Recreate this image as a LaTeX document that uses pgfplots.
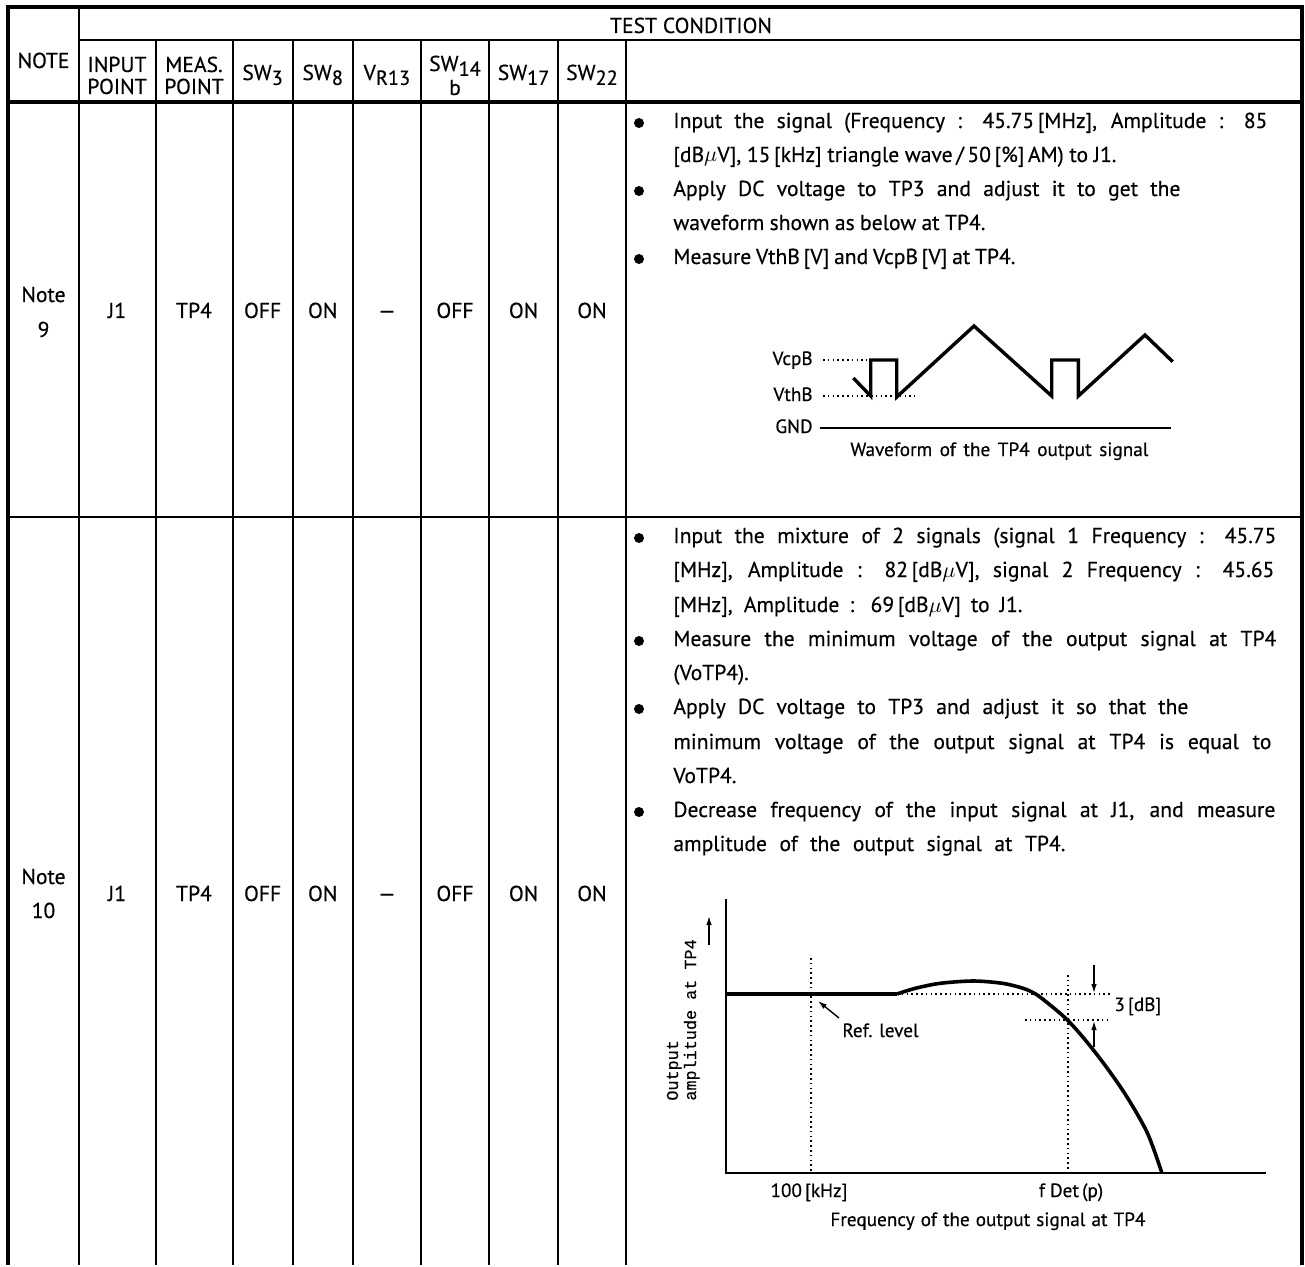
\documentclass[border=0pt]{standalone}
\usepackage{fontspec}
\setmainfont{PT Sans}[FakeBold=0.4]
\setmonofont{Liberation Mono}[FakeBold=0.3]
\usepackage{pgfplots}
\pgfplotsset{compat=1.18}
\usetikzlibrary{arrows.meta}

% subscripts in the header are almost full size, just dropped a little
\newcommand\sub[1]{\raisebox{-0.45ex}{\fontsize{10.2}{11}\selectfont #1}}
\newcommand\muV{dB$\mu$V}
\newcommand\diag{\fontsize{9.6}{11}\selectfont}

\begin{document}
\begin{tikzpicture}[every node/.style={inner sep=0pt, font=\fontsize{10.8}{13}\selectfont},
    dotline/.style={line width=0.8pt, dash pattern=on 0.8pt off 1.6pt},
    arr/.style={line width=0.7pt, -{Latex[length=4.5pt,width=2.8pt]}},
    dot/.style={circle, fill, minimum size=5pt}]
\begin{axis}[
    scale only axis, width=652.5pt, height=632.5pt,
    xmin=0, xmax=1305, ymin=0, ymax=1265, y dir=reverse,
    hide axis, clip=false,
]
\fill[white] (0,0) rectangle (1305,1265);

% ---- table grid
\draw[line width=2pt, line join=miter] (8,1265) -- (8,7) -- (1302,7) -- (1302,1265);
\draw[line width=0.8pt] (79,40) -- (1302,40);
\draw[line width=2pt] (8,102) -- (1302,102);
\draw[line width=1.2pt] (8,517) -- (1302,517);
\draw[line width=1pt] (79,7) -- (79,1265);
\pgfplotsinvokeforeach{155.5,232.5,292.7,352.7,421,489.3,558,626}{
  \draw[line width=1pt] (#1,40) -- (#1,1265);
}

% ---- header
\node[anchor=base] at (691,33) {TEST CONDITION};
\node[anchor=base] at (43.5,68) {NOTE};
\node[anchor=base] at (117,72) {INPUT};
\node[anchor=base] at (117,94) {POINT};
\node[anchor=base] at (194,72) {MEAS.};
\node[anchor=base] at (194,94) {POINT};
\node[anchor=base] at (262.6,80) {SW\sub{3}};
\node[anchor=base] at (322.7,80) {SW\sub{8}};
\node[anchor=base] at (386.9,80) {V\sub{R13}};
\node[anchor=base] at (455,71) {SW\sub{14}};
\node[anchor=base] at (455,95) {b};
\node[anchor=base] at (523.6,80) {SW\sub{17}};
\node[anchor=base] at (592,80) {SW\sub{22}};

% ---- row: note 9
\node[anchor=base] at (43.5,302) {Note};
\node[anchor=base] at (43.5,337) {9};
\node[anchor=base] at (117,318) {J1};
\node[anchor=base] at (194,318) {TP4};
\node[anchor=base] at (262.6,318) {OFF};
\node[anchor=base] at (322.7,318) {ON};
\node[anchor=base] at (386.9,318) {\textemdash};
\node[anchor=base] at (455,318) {OFF};
\node[anchor=base] at (523.6,318) {ON};
\node[anchor=base] at (592,318) {ON};

\node[dot] at (639,123) {};
\node[dot] at (639,191) {};
\node[dot] at (639,259) {};
\node[anchor=base west] at (673,128) {\makebox[297pt][s]{Input the signal (Frequency : 45.75\,[MHz], Amplitude : 85}};
\node[anchor=base west] at (673,162) {\makebox[221.5pt][s]{[\muV], 15\,[kHz] triangle wave\,/\,50\,[\%]\,AM) to J1.}};
\node[anchor=base west] at (673,196) {\makebox[253.5pt][s]{Apply DC voltage to TP3 and adjust it to get the}};
\node[anchor=base west] at (673,230) {\makebox[156pt][s]{waveform shown as below at TP4.}};
\node[anchor=base west] at (673,264) {\makebox[171pt][s]{Measure VthB\,[V] and VcpB\,[V] at TP4.}};

% waveform at TP4
\addplot[dotline] coordinates {(823,360) (867,360)};
\addplot[dotline] coordinates {(823,396) (915,396)};
\addplot[line width=1.1pt] coordinates {(820,428) (1171,428)};
\addplot[line width=1.7pt, line join=miter] coordinates {
  (853.3,378) (870.7,396) (870.7,360) (896.7,360) (896.7,397)
  (974,326) (1051.7,396) (1051.7,360) (1078.3,360) (1078.3,396)
  (1145,335) (1172.7,361.7)};
\node[anchor=base east, font=\diag] at (813,365) {VcpB};
\node[anchor=base east, font=\diag] at (813,401) {VthB};
\node[anchor=base east, font=\diag] at (813,433) {GND};
\node[anchor=base west, font=\diag] at (850,456) {\makebox[149pt][s]{Waveform of the TP4 output signal}};

% ---- row: note 10
\node[anchor=base] at (43.5,884) {Note};
\node[anchor=base] at (43.5,918) {10};
\node[anchor=base] at (117,901) {J1};
\node[anchor=base] at (194,901) {TP4};
\node[anchor=base] at (262.6,901) {OFF};
\node[anchor=base] at (322.7,901) {ON};
\node[anchor=base] at (386.9,901) {\textemdash};
\node[anchor=base] at (455,901) {OFF};
\node[anchor=base] at (523.6,901) {ON};
\node[anchor=base] at (592,901) {ON};

\node[dot] at (639,538) {};
\node[dot] at (639,641) {};
\node[dot] at (639,709) {};
\node[dot] at (639,812) {};
\node[anchor=base west] at (673,543) {\makebox[301.5pt][s]{Input the mixture of 2 signals (signal 1 Frequency : 45.75}};
\node[anchor=base west] at (673,577) {\makebox[300.5pt][s]{[MHz], Amplitude : 82\,[\muV], signal 2 Frequency : 45.65}};
\node[anchor=base west] at (673,612) {\makebox[174.5pt][s]{[MHz], Amplitude : 69\,[\muV] to J1.}};
\node[anchor=base west] at (673,646) {\makebox[301.5pt][s]{Measure the minimum voltage of the output signal at TP4}};
\node[anchor=base west] at (673,680) {(VoTP4).};
\node[anchor=base west] at (673,714) {\makebox[257.5pt][s]{Apply DC voltage to TP3 and adjust it so that the}};
\node[anchor=base west] at (673,749) {\makebox[299pt][s]{minimum voltage of the output signal at TP4 is equal to}};
\node[anchor=base west] at (673,783) {VoTP4.};
\node[anchor=base west] at (673,817) {\makebox[301pt][s]{Decrease frequency of the input signal at J1, and measure}};
\node[anchor=base west] at (673,851) {\makebox[196pt][s]{amplitude of the output signal at TP4.}};

% frequency response at TP4
\addplot[line width=1pt] coordinates {(726,899) (726,1173) (1266,1173)};
\addplot[dotline] coordinates {(811,958) (811,1173)};
\addplot[dotline] coordinates {(1068,975) (1068,1173)};
\addplot[dotline] coordinates {(897,994) (1111,994)};
\addplot[dotline] coordinates {(1025,1020) (1111,1020)};
\addplot[line width=1.8pt] coordinates {(726,994) (897,994)};
\addplot[line width=1.8pt, smooth, tension=0.5] coordinates {
  (897,994) (915.3,988.3) (940.2,983.3) (973.4,981) (1002.4,983.3)
  (1023.1,988.3) (1035.6,994) (1048,1003.3) (1066.7,1019.3) (1085.3,1040)
  (1106.1,1066.7) (1126.8,1096.7) (1147.5,1133.3) (1162,1173.3)};
\draw[arr] (709,945) -- (709,916);
\draw[arr] (1094,965) -- (1094,993);
\draw[arr] (1094,1047) -- (1094,1021);
\draw[arr] (839,1018) -- (818,1001);
\node[anchor=base west, font=\diag] at (842,1037) {Ref. level};
\node[anchor=base west, font=\diag] at (1114,1011) {3\,[dB]};
\node[anchor=base, font=\diag] at (809,1197) {100\,[kHz]};
\node[anchor=base, font=\diag] at (1071,1197) {f Det\,(p)};
\node[anchor=base west, font=\diag] at (830,1226) {\makebox[157.5pt][s]{Frequency of the output signal at TP4}};
\node[anchor=base west, rotate=90, font=\ttfamily\fontsize{8.4}{9}\selectfont] at (678,1101) {Output};
\node[anchor=base west, rotate=90, font=\ttfamily\fontsize{8.4}{9}\selectfont] at (696,1101) {amplitude at TP4};
\end{axis}
\end{tikzpicture}
\end{document}
